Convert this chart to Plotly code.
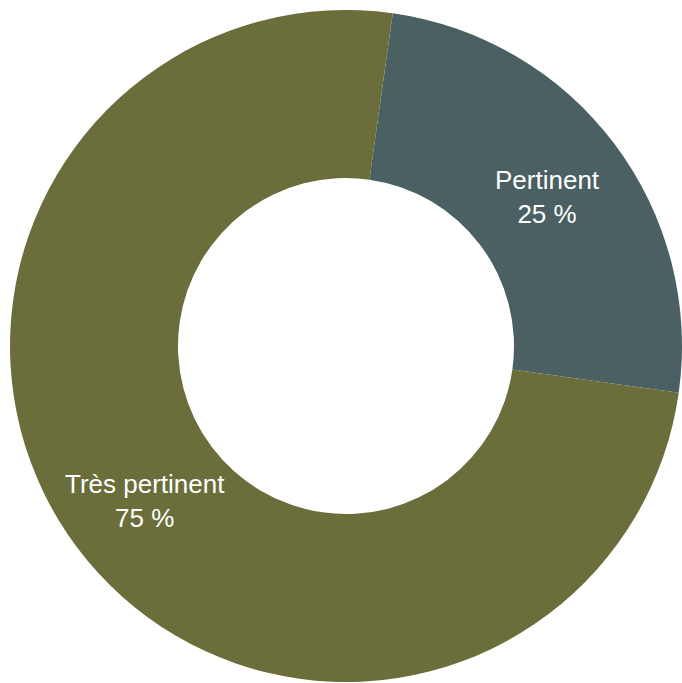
import math
import plotly.graph_objects as go

labels = ["Pertinent", "Très pertinent"]
values = [25, 75]
colors = ["#4A6062", "#6B6E3A"]

W, H = 682, 683
rotation = 8
hole = 0.5
dom_x = [10 / W, 1.0]
dom_y = [0.0, 674 / H]

fig = go.Figure(go.Pie(
    labels=labels,
    values=values,
    hole=hole,
    sort=False,
    direction="clockwise",
    rotation=rotation,
    marker=dict(colors=colors, line=dict(width=0)),
    textinfo="none",
    hoverinfo="label+percent",
    domain=dict(x=dom_x, y=dom_y),
))

# label positions derived from the pie geometry (mid-angle, mid-radius)
cx = (dom_x[0] + dom_x[1]) / 2 * W
cy = (dom_y[0] + dom_y[1]) / 2 * H  # from bottom
R = min((dom_x[1] - dom_x[0]) * W, (dom_y[1] - dom_y[0]) * H) / 2
rl = R * (1 + hole) / 2
total = sum(values)
start = rotation
annotations = []
for lab, v in zip(labels, values):
    span = 360 * v / total
    mid = math.radians(start + span / 2)
    start += span
    px = cx + rl * math.sin(mid)
    py = cy + rl * math.cos(mid)
    pct = round(100 * v / total)
    annotations.append(dict(
        x=px / W, y=py / H, xref="paper", yref="paper",
        text=f"{lab}<br>{pct} %", showarrow=False,
        xanchor="center", yanchor="middle", yshift=-3,
        font=dict(family="Liberation Sans, Arial, sans-serif", size=26, color="white"),
    ))

fig.update_layout(
    width=W, height=H,
    margin=dict(l=0, r=0, t=0, b=0),
    showlegend=False,
    paper_bgcolor="white",
    plot_bgcolor="white",
    annotations=annotations,
)
fig.write_html("out.html")
